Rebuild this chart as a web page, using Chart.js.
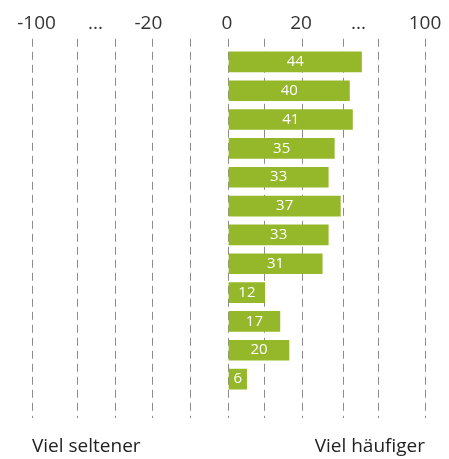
<!DOCTYPE html>
<html>
<head>
<meta charset="utf-8">
<script src="https://cdn.jsdelivr.net/npm/chart.js@4/dist/chart.umd.min.js"></script>
<style>
  html, body { margin: 0; padding: 0; background: #fff; }
  #wrap { width: 449px; height: 459px; }
</style>
</head>
<body>
<div id="wrap"><canvas id="bars"></canvas></div>
<script>
// rows top to bottom (no visible labels in the picture)
var categories = ['1', '2', '3', '4', '5', '6', '7', '8', '9', '10', '11', '12'];
var values = [44, 40, 41, 35, 33, 37, 33, 31, 12, 17, 20, 6];

// top axis labels and where they sit on the axis
var tickLabels = ['-100', '...', '-20', '0', '20', '...', '100'];
var tickPositions = [-63.5, -44, -26.5, -0.5, 24, 43, 65];

// dashed guide lines (axis is not linear in the original)
var gridPositions = [-65, -50, -37.5, -25, -12.5, 0, 12, 24.5, 38, 49.5, 65];

var bottomLabels = ['Viel seltener', 'Viel häufiger'];

var green = '#95b72a';
var font = '"Open Sans", sans-serif';

var valueLabels = {
    id: 'valueLabels',
    afterDatasetsDraw: function(chart) {
        var ctx = chart.ctx;
        var meta = chart.getDatasetMeta(0);
        ctx.save();
        ctx.fillStyle = '#fff';
        ctx.font = '15px ' + font;
        ctx.textAlign = 'center';
        ctx.textBaseline = 'middle';
        meta.data.forEach(function(bar, i) {
            ctx.fillText(values[i], (bar.x + bar.base) / 2, bar.y);
        });
        ctx.restore();
    }
};

var ctx = document.getElementById('bars').getContext('2d');
var myBarChart = new Chart(ctx, {
    type: 'bar',
    data: {
        labels: categories,
        datasets: [{
            label: 'Werte',
            data: values.map(function(v, i) { return {x: v, y: i}; }),
            backgroundColor: green,
            borderWidth: 0,
            barThickness: 20
        }]
    },
    options: {
        indexAxis: 'y',
        responsive: true,
        maintainAspectRatio: false,
        animation: false,
        layout: { padding: { left: 32, right: 24, top: 8, bottom: 2 } },
        plugins: {
            legend: { display: false },
            tooltip: { enabled: false }
        },
        scales: {
            y: {
                type: 'linear',
                reverse: true,
                offset: false,
                min: -0.8,
                max: 12.35,
                display: false
            },
            x: {
                type: 'linear',
                position: 'bottom',
                min: -65,
                max: 65,
                afterBuildTicks: function(axis) {
                    axis.ticks = gridPositions.map(function(v) { return {value: v}; });
                },
                afterFit: function(axis) {
                    axis.height = 39;
                },
                border: { display: false, dash: [8, 5] },
                grid: {
                    color: '#8c8c8c',
                    lineWidth: 1,
                    drawTicks: false
                },
                ticks: {
                    autoSkip: false,
                    maxRotation: 0,
                    align: 'inner',
                    padding: 17,
                    color: '#222',
                    font: { family: font, size: 19 },
                    callback: function(value, index, ticks) {
                        if (index === 0) return bottomLabels[0];
                        if (index === ticks.length - 1) return bottomLabels[1];
                        return '';
                    }
                }
            },
            x2: {
                type: 'linear',
                position: 'top',
                min: -65,
                max: 65,
                afterBuildTicks: function(axis) {
                    axis.ticks = tickPositions.map(function(v) { return {value: v}; });
                },
                border: { display: false },
                grid: { display: false, drawTicks: false },
                ticks: {
                    autoSkip: false,
                    maxRotation: 0,
                    padding: 4,
                    color: '#333',
                    font: { family: font, size: 19 },
                    callback: function(value, index) {
                        return tickLabels[index];
                    }
                }
            }
        }
    },
    plugins: [valueLabels]
});
</script>
</body>
</html>
